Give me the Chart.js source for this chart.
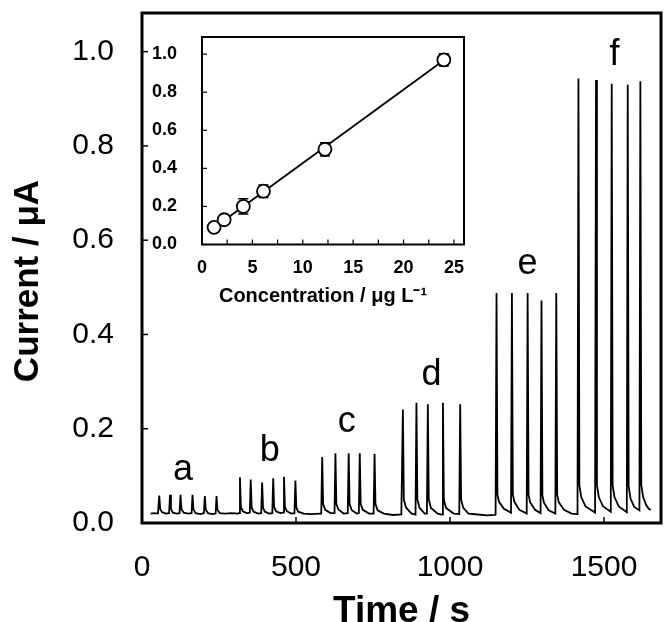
<!DOCTYPE html>
<html>
<head>
<meta charset="utf-8">
<script src="https://cdn.jsdelivr.net/npm/chart.js@4.4.1/dist/chart.umd.min.js"></script>
<style>
  html, body { margin: 0; padding: 0; background: #fff; }
  #wrap { position: relative; width: 665px; height: 622px; }
  #mainChart { position: absolute; left: 0; top: 0; }
  #insetChart { position: absolute; left: 140px; top: 20px; }
</style>
</head>
<body>
<div id="wrap">
  <canvas id="mainChart" width="665" height="622"></canvas>
  <canvas id="insetChart" width="340" height="300"></canvas>
</div>
<script>
// trace, group by group (time in s, current in uA)
var timeA = [28, 40, 52, 56, 59, 65, 78, 88, 91, 94, 100, 112, 122, 125, 128, 135, 150, 161, 164, 167, 174, 190, 201, 204, 207, 214, 228, 239, 242, 245, 252, 270, 290, 312];
var curA  = [0.02, 0.021, 0.02, 0.058, 0.03, 0.023, 0.02, 0.021, 0.06, 0.03, 0.022, 0.02, 0.021, 0.06, 0.03, 0.022, 0.02, 0.021, 0.06, 0.029, 0.021, 0.019, 0.021, 0.057, 0.028, 0.021, 0.019, 0.02, 0.057, 0.028, 0.021, 0.02, 0.021, 0.02];
var timeB = [315, 318, 321, 327, 340, 350, 353, 356, 362, 377, 387, 390, 393, 399, 413, 423, 426, 429, 435, 449, 458, 461, 464, 470, 485, 495, 498, 501, 507, 525, 550, 579];
var curB  = [0.021, 0.097, 0.035, 0.025, 0.021, 0.022, 0.092, 0.033, 0.024, 0.02, 0.021, 0.086, 0.032, 0.024, 0.02, 0.021, 0.095, 0.034, 0.025, 0.021, 0.022, 0.098, 0.034, 0.025, 0.02, 0.021, 0.09, 0.033, 0.024, 0.02, 0.019, 0.02];
var timeC = [582, 585, 588, 595, 612, 625, 628, 631, 638, 655, 668, 671, 674, 681, 697, 704, 707, 710, 717, 737, 752, 755, 758, 765, 785, 815, 842];
var curC  = [0.02, 0.14, 0.04, 0.028, 0.021, 0.021, 0.148, 0.04, 0.028, 0.02, 0.021, 0.148, 0.04, 0.027, 0.02, 0.021, 0.148, 0.04, 0.028, 0.02, 0.02, 0.147, 0.04, 0.027, 0.02, 0.017, 0.018];
var timeD = [844, 847, 850, 857, 875, 888, 891, 894, 901, 918, 925, 928, 931, 938, 960, 974, 977, 980, 987, 1012, 1030, 1033, 1036, 1043, 1060, 1090, 1120, 1146];
var curD  = [0.018, 0.241, 0.05, 0.033, 0.02, 0.018, 0.255, 0.05, 0.032, 0.02, 0.02, 0.252, 0.05, 0.032, 0.02, 0.018, 0.255, 0.05, 0.032, 0.02, 0.019, 0.252, 0.05, 0.032, 0.02, 0.018, 0.016, 0.017];
var timeE = [1148, 1151, 1154, 1159, 1175, 1198, 1201, 1204, 1209, 1225, 1249, 1252, 1255, 1260, 1276, 1294, 1297, 1300, 1305, 1320, 1342, 1345, 1348, 1353, 1370, 1395, 1413];
var curE  = [0.018, 0.488, 0.06, 0.045, 0.03, 0.022, 0.488, 0.06, 0.045, 0.028, 0.02, 0.488, 0.06, 0.044, 0.028, 0.021, 0.472, 0.058, 0.043, 0.027, 0.02, 0.488, 0.06, 0.044, 0.028, 0.02, 0.019];
var timeF = [1414, 1417, 1420, 1426, 1440, 1471, 1474, 1477, 1483, 1497, 1522, 1525, 1528, 1534, 1548, 1574, 1577, 1580, 1586, 1598, 1615, 1618, 1621, 1627, 1637, 1645, 1652];
var curF  = [0.02, 0.943, 0.08, 0.055, 0.035, 0.022, 0.94, 0.08, 0.055, 0.035, 0.024, 0.932, 0.08, 0.055, 0.035, 0.023, 0.93, 0.078, 0.052, 0.034, 0.027, 0.937, 0.08, 0.055, 0.038, 0.03, 0.028];

// group letters and where they sit (data coords)
var groupLabels = ['a', 'b', 'c', 'd', 'e', 'f'];
var labelTime = [133, 415, 665, 940, 1252, 1534];
var labelCurrent = [0.112, 0.152, 0.215, 0.313, 0.549, 0.992];

var timeTicks = [0, 500, 1000, 1500];
var currentTicks = [0, 0.2, 0.4, 0.6, 0.8, 1.0];

// inset: calibration
var conc = [1.2, 2.2, 4.1, 6.1, 12.2, 24.0];
var signal = [0.09, 0.13, 0.20, 0.28, 0.50, 0.97];
var signalErr = [0.01, 0.01, 0.04, 0.033, 0.035, 0.032];
var fitX = [1.2, 24.0];
var fitY = [0.088, 0.968];
var concTicks = [0, 2.5, 5, 7.5, 10, 12.5, 15, 17.5, 20, 22.5, 25];
var signalTicks = [0, 0.2, 0.4, 0.6, 0.8, 1.0];

var FONT = '"Liberation Sans", Arial, sans-serif';

function toPoints(xs, ys) {
    var pts = [];
    for (var i = 0; i < xs.length; i++) pts.push({ x: xs[i], y: ys[i] });
    return pts;
}

var trace = toPoints(
    timeA.concat(timeB, timeC, timeD, timeE, timeF),
    curA.concat(curB, curC, curD, curE, curF)
);

// no extra room for label overflow, the plot box is placed by hand
function noPadX(s, h) { s.height = h; s.paddingLeft = 0; s.paddingRight = 0; }
function noPadY(s, w) { s.width = w; s.paddingTop = 0; s.paddingBottom = 0; }

// box round the plot area + ticks pointing inward
var frameTicks = {
    id: 'frameTicks',
    afterDraw: function(chart, args, opts) {
        var ctx = chart.ctx, a = chart.chartArea;
        var xs = chart.scales.x, ys = chart.scales.y;
        ctx.save();
        ctx.strokeStyle = '#000';
        ctx.lineWidth = opts.tickWidth;
        xs.ticks.forEach(function(t) {
            var px = xs.getPixelForValue(t.value);
            ctx.beginPath();
            ctx.moveTo(px, a.bottom);
            ctx.lineTo(px, a.bottom - opts.tickLen);
            ctx.stroke();
        });
        ys.ticks.forEach(function(t) {
            var py = ys.getPixelForValue(t.value);
            ctx.beginPath();
            ctx.moveTo(a.left, py);
            ctx.lineTo(a.left + opts.tickLen, py);
            ctx.stroke();
        });
        ctx.lineWidth = opts.frameWidth;
        ctx.strokeRect(a.left, a.top, a.right - a.left, a.bottom - a.top);
        ctx.restore();
    }
};

// letters a-f and rotated y title
var mainText = {
    id: 'mainText',
    afterDraw: function(chart) {
        var ctx = chart.ctx;
        var xs = chart.scales.x, ys = chart.scales.y;
        ctx.save();
        ctx.fillStyle = '#000';
        ctx.textAlign = 'center';
        ctx.textBaseline = 'middle';
        ctx.font = '36px ' + FONT;
        groupLabels.forEach(function(l, i) {
            ctx.fillText(l, xs.getPixelForValue(labelTime[i]), ys.getPixelForValue(labelCurrent[i]));
        });
        ctx.translate(28, 281);
        ctx.rotate(-Math.PI / 2);
        ctx.font = 'bold 35px ' + FONT;
        ctx.fillText('Current / \u03bcA', 0, 0);
        ctx.restore();
    }
};

// error bars + x title for the inset
var insetExtras = {
    id: 'insetExtras',
    beforeDatasetsDraw: function(chart) {
        var ctx = chart.ctx;
        var xs = chart.scales.x, ys = chart.scales.y;
        ctx.save();
        ctx.strokeStyle = '#000';
        ctx.lineWidth = 1.5;
        for (var i = 0; i < conc.length; i++) {
            var px = xs.getPixelForValue(conc[i]);
            var top = ys.getPixelForValue(signal[i] + signalErr[i]);
            var bot = ys.getPixelForValue(signal[i] - signalErr[i]);
            ctx.beginPath();
            ctx.moveTo(px, top); ctx.lineTo(px, bot);
            ctx.moveTo(px - 5, top); ctx.lineTo(px + 5, top);
            ctx.moveTo(px - 5, bot); ctx.lineTo(px + 5, bot);
            ctx.stroke();
        }
        ctx.restore();
    },
    afterDraw: function(chart) {
        var ctx = chart.ctx;
        ctx.save();
        ctx.fillStyle = '#000';
        ctx.textAlign = 'center';
        ctx.textBaseline = 'middle';
        ctx.font = 'bold 20px ' + FONT;
        ctx.fillText('Concentration / \u03bcg L\u207b\u00b9', 183, 276);
        ctx.restore();
    }
};

new Chart(document.getElementById('mainChart'), {
    type: 'line',
    data: {
        datasets: [{
            data: trace,
            borderColor: '#000',
            borderWidth: 1.8,
            pointRadius: 0,
            tension: 0,
            fill: false
        }]
    },
    options: {
        responsive: false,
        animation: false,
        layout: { padding: { left: 0, right: 4, top: 13, bottom: 0 } },
        plugins: {
            legend: { display: false },
            tooltip: { enabled: false },
            frameTicks: { tickLen: 6, tickWidth: 1.5, frameWidth: 3 }
        },
        scales: {
            x: {
                type: 'linear',
                min: 0,
                max: 1685,
                grid: { display: false, drawTicks: false },
                border: { display: false },
                afterBuildTicks: function(s) { s.ticks = timeTicks.map(function(v) { return { value: v }; }); },
                afterFit: function(s) { noPadX(s, 99); },
                ticks: { color: '#000', font: { family: FONT, size: 30 }, padding: 27, maxRotation: 0, autoSkip: false,
                         callback: function(v) { return String(v); } },
                title: { display: true, text: 'Time / s', color: '#000', font: { family: FONT, size: 37, weight: 'bold' }, padding: { top: 0, bottom: -12 } }
            },
            y: {
                min: 0,
                max: 1.082,
                grid: { display: false, drawTicks: false },
                border: { display: false },
                afterBuildTicks: function(s) { s.ticks = currentTicks.map(function(v) { return { value: v }; }); },
                afterFit: function(s) { noPadY(s, 142); },
                ticks: { color: '#000', font: { family: FONT, size: 30 }, padding: 28, callback: function(v) { return v.toFixed(1); } }
            }
        }
    },
    plugins: [frameTicks, mainText]
});

new Chart(document.getElementById('insetChart'), {
    type: 'line',
    data: {
        datasets: [{
            data: toPoints(conc, signal),
            showLine: false,
            pointRadius: 6.5,
            pointBackgroundColor: '#fff',
            pointBorderColor: '#000',
            pointBorderWidth: 1.8
        }, {
            data: toPoints(fitX, fitY),
            borderColor: '#000',
            borderWidth: 1.8,
            pointRadius: 0,
            tension: 0
        }]
    },
    options: {
        responsive: false,
        animation: false,
        layout: { padding: { left: 0, right: 16, top: 17, bottom: 0 } },
        plugins: {
            legend: { display: false },
            tooltip: { enabled: false },
            frameTicks: { tickLen: 5, tickWidth: 1.2, frameWidth: 2 }
        },
        scales: {
            x: {
                type: 'linear',
                min: 0,
                max: 26,
                grid: { display: false, drawTicks: false },
                border: { display: false },
                afterBuildTicks: function(s) { s.ticks = concTicks.map(function(v) { return { value: v }; }); },
                afterFit: function(s) { noPadX(s, 75.5); },
                ticks: { color: '#000', font: { family: FONT, size: 18, weight: 'bold' }, padding: 13, maxRotation: 0, autoSkip: false,
                         callback: function(v) { return v % 5 === 0 ? String(v) : ''; } }
            },
            y: {
                min: 0,
                max: 1.09,
                grid: { display: false, drawTicks: false },
                border: { display: false },
                afterBuildTicks: function(s) { s.ticks = signalTicks.map(function(v) { return { value: v }; }); },
                afterFit: function(s) { noPadY(s, 62); },
                ticks: { color: '#000', font: { family: FONT, size: 18, weight: 'bold' }, padding: 25, callback: function(v) { return v.toFixed(1); } }
            }
        }
    },
    plugins: [insetExtras, frameTicks]
});
</script>
</body>
</html>
